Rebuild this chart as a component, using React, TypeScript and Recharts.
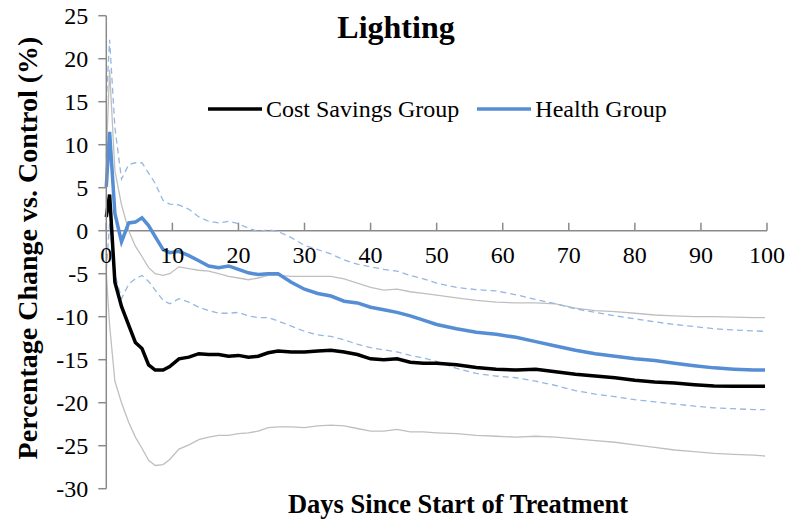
import React from "react";
import {
  LineChart,
  Line,
  XAxis,
  YAxis,
  ReferenceLine,
  ReferenceDot,
  Legend,
} from "recharts";

const days = [
  0, 0.5, 1.3, 2.3, 3.4, 4.4, 5.4, 6.4, 7.4, 8.6, 9.6, 11, 12.5, 14, 15.5, 17,
  18.5, 20, 21.5, 23, 24.5, 26, 28, 30, 32, 34, 36, 38, 40, 42, 44, 46, 48, 50,
  53, 56, 59, 62, 65, 68, 71, 74, 77, 80, 83, 86, 89, 92, 95, 98, 99.7,
];

const costSavings = [
  1.6, 4.2, -6.0, -8.8, -11.0, -13.0, -13.7, -15.6, -16.2, -16.2,
  -15.8, -14.9, -14.7, -14.3, -14.4, -14.4, -14.6, -14.5, -14.7, -14.6,
  -14.2, -14.0, -14.1, -14.1, -14.0, -13.9, -14.1, -14.4, -14.9, -15.0,
  -14.9, -15.3, -15.4, -15.4, -15.6, -15.9, -16.1, -16.2, -16.1, -16.4,
  -16.7, -16.9, -17.1, -17.4, -17.6, -17.7, -17.9, -18.05, -18.1, -18.1,
  -18.1,
];

const costUpper = [
  8.5, 18.7, 7.0, 3.0, 0.0, -1.8, -3.0, -4.3, -5.0, -5.2,
  -5.0, -4.2, -4.4, -4.6, -4.7, -5.0, -5.3, -5.5, -5.7, -5.5,
  -5.2, -5.2, -5.3, -5.3, -5.3, -5.3, -5.6, -6.1, -6.6, -6.9,
  -6.8, -7.1, -7.3, -7.5, -7.8, -8.1, -8.3, -8.4, -8.4, -8.5,
  -9.0, -9.3, -9.4, -9.6, -9.8, -9.9, -10.0, -10.0, -10.05, -10.1,
  -10.1,
];

const costLower = [
  -5.0, -11.0, -17.5, -20.0, -22.3, -24.0, -25.3, -26.7, -27.3, -27.2,
  -26.6, -25.4, -24.9, -24.3, -24.0, -23.8, -23.8, -23.6, -23.5, -23.3,
  -22.9, -22.8, -22.8, -22.9, -22.7, -22.6, -22.7, -23.0, -23.3, -23.3,
  -23.1, -23.4, -23.4, -23.5, -23.6, -23.8, -23.9, -24.0, -23.9, -24.0,
  -24.2, -24.4, -24.6, -24.9, -25.2, -25.5, -25.7, -25.9, -26.0, -26.1,
  -26.2,
];

const health = [
  5.1, 11.5, 2.0, -1.3, 0.9, 1.0, 1.5, 0.6, -0.7, -2.2,
  -2.55, -2.4, -2.9, -3.5, -4.1, -4.3, -4.1, -4.5, -4.9, -5.1,
  -5.0, -5.0, -6.0, -6.8, -7.3, -7.6, -8.2, -8.4, -8.9, -9.2,
  -9.5, -9.9, -10.4, -10.9, -11.4, -11.8, -12.05, -12.4, -12.9, -13.4,
  -13.9, -14.3, -14.6, -14.9, -15.1, -15.4, -15.7, -15.95, -16.1, -16.2,
  -16.2,
];

const healthUpper = [
  15.0, 22.2, 12.0, 6.0, 7.7, 7.9, 7.9, 6.7, 5.5, 3.5,
  3.1, 3.0, 2.5, 1.6, 1.1, 0.9, 1.1, 0.8, 0.3, -0.1,
  0.1, -0.1, -0.8, -1.7, -2.2, -2.7, -3.4, -3.9, -4.2, -4.5,
  -4.7, -5.2, -5.6, -6.1, -6.6, -6.85, -7.0, -7.45, -8.0, -8.5,
  -9.1, -9.5, -9.9, -10.25, -10.6, -10.9, -11.15, -11.4, -11.55, -11.65,
  -11.7,
];

const healthLower = [
  -4.5, 0.8, -5.0, -7.9, -6.2, -5.6, -5.2, -5.9, -6.9, -8.1,
  -8.5, -7.9, -8.3, -8.9, -9.3, -9.6, -9.6, -9.5, -9.9, -10.1,
  -10.1, -10.5, -11.1, -11.7, -12.1, -12.3, -12.7, -13.2, -13.6, -13.85,
  -14.1, -14.5, -14.8, -15.2, -16.0, -16.6, -16.9, -17.1, -17.5, -18.0,
  -18.6, -19.0, -19.3, -19.65, -19.9, -20.15, -20.4, -20.6, -20.7, -20.8,
  -20.8,
];

const xTicks = [0, 10, 20, 30, 40, 50, 60, 70, 80, 90, 100];
const yTicks = [-30, -25, -20, -15, -10, -5, 0, 5, 10, 15, 20, 25];

const chartTitle = "Lighting";
const xTitle = "Days Since Start of Treatment";
const yTitle = "Percentage Change vs. Control (%)";
const costName = "Cost Savings Group";
const healthName = "Health Group";

const data = days.map((d, i) => ({
  day: d,
  cost: costSavings[i],
  costHi: costUpper[i],
  costLo: costLower[i],
  health: health[i],
  healthHi: healthUpper[i],
  healthLo: healthLower[i],
}));

const FONT = "'Liberation Serif', 'Times New Roman', serif";
const AXIS = "#8a8a8a";
const BLUE = "#558ED5";
const BLUE_LIGHT = "#95B7E3";
const GRAY = "#BFBFBF";
const LEGEND_H = 28;

const legendItems = [
  { name: costName, color: "#000000" },
  { name: healthName, color: BLUE },
];

const LegendContent = () => (
  <div
    style={{
      display: "flex",
      alignItems: "center",
      height: LEGEND_H,
      fontFamily: FONT,
      fontSize: 24,
      color: "#000",
    }}
  >
    {legendItems.map((it, i) => (
      <div key={it.name} style={{ display: "flex", alignItems: "center", marginRight: i === 0 ? 18 : 0 }}>
        <svg width={54} height={8} style={{ marginRight: 4 }}>
          <line x1={0} y1={4} x2={54} y2={4} stroke={it.color} strokeWidth={3.5} />
        </svg>
        <span style={{ whiteSpace: "nowrap", fontFamily: FONT }}>{it.name}</span>
      </div>
    ))}
  </div>
);

export default function App() {
  return (
    <div
      style={{
        position: "absolute",
        left: 0,
        top: 0,
        width: 796,
        height: 523,
        background: "#fff",
        fontFamily: FONT,
      }}
    >
      <LineChart
        width={796}
        height={523}
        data={data}
        style={{ fontFamily: FONT }}
        margin={{ top: 15.7, right: 29, bottom: 34.3 - LEGEND_H, left: 0 }}
      >
        <XAxis dataKey="day" type="number" domain={[0, 100]} ticks={xTicks} hide />
        <YAxis
          type="number"
          domain={[-30, 25]}
          ticks={yTicks}
          width={106.3}
          interval={0}
          axisLine={{ stroke: AXIS, strokeWidth: 1.5 }}
          tickLine={{ stroke: AXIS, strokeWidth: 1.5 }}
          tickSize={8}
          tickMargin={10}
          tick={{ fill: "#000", fontSize: 24, fontFamily: FONT }}
        />
        <ReferenceLine y={0} stroke={AXIS} strokeWidth={1.5} />
        {xTicks.map((t) => (
          <ReferenceLine
            key={"t" + t}
            segment={[{ x: t, y: 0 }, { x: t, y: 0.93 }]}
            stroke={AXIS}
            strokeWidth={1.5}
          />
        ))}
        {xTicks.map((t) => (
          <ReferenceDot
            key={"l" + t}
            x={t}
            y={0}
            r={0}
            fill="none"
            stroke="none"
            label={{
              value: String(t),
              position: "bottom",
              offset: 15,
              fill: "#000",
              fontSize: 24,
              fontFamily: FONT,
            }}
          />
        ))}
        <Line dataKey="costHi" stroke={GRAY} strokeWidth={1.3} dot={false} isAnimationActive={false} legendType="none" />
        <Line dataKey="costLo" stroke={GRAY} strokeWidth={1.3} dot={false} isAnimationActive={false} legendType="none" />
        <Line dataKey="healthHi" stroke={BLUE_LIGHT} strokeWidth={1.3} strokeDasharray="6 4" dot={false} isAnimationActive={false} legendType="none" />
        <Line dataKey="healthLo" stroke={BLUE_LIGHT} strokeWidth={1.3} strokeDasharray="6 4" dot={false} isAnimationActive={false} legendType="none" />
        <Line dataKey="health" name={healthName} stroke={BLUE} strokeWidth={3.5} dot={false} isAnimationActive={false} />
        <Line dataKey="cost" name={costName} stroke="#000000" strokeWidth={3.5} dot={false} isAnimationActive={false} />
        <Legend
          content={<LegendContent />}
          wrapperStyle={{ position: "absolute", left: 208, top: 95, width: 500, height: LEGEND_H }}
        />
        <text x={396} y={38} textAnchor="middle" fontFamily={FONT} fontSize={32} fontWeight="bold" fill="#000">
          {chartTitle}
        </text>
        <text x={458} y={513} textAnchor="middle" fontFamily={FONT} fontSize={26.5} fontWeight="bold" fill="#000">
          {xTitle}
        </text>
        <text
          x={0}
          y={0}
          transform="translate(37, 248) rotate(-90)"
          textAnchor="middle"
          fontFamily={FONT}
          fontSize={28}
          fontWeight="bold"
          fill="#000"
        >
          {yTitle}
        </text>
      </LineChart>
    </div>
  );
}
